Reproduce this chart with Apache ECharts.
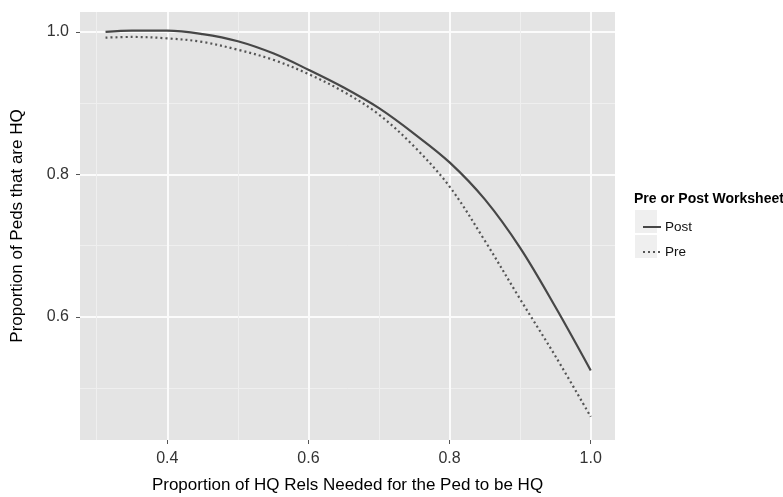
<!DOCTYPE html>
<html>
<head>
<meta charset="utf-8">
<title>Proportion of Peds that are HQ</title>
<script src="https://cdn.jsdelivr.net/npm/echarts@6/dist/echarts.min.js"></script>
<style>
  html, body { margin: 0; padding: 0; background: #fff; }
  #chart { width: 783px; height: 497px; }
</style>
</head>
<body>
<div id="chart"></div>
<script>
// x = proportion of HQ rels needed
var xValues = [0.3125, 0.35, 0.4, 0.45, 0.5, 0.55, 0.6, 0.65, 0.7, 0.75, 0.8, 0.85, 0.9, 0.95, 1.0];
var postValues = [1.000, 1.002, 1.002, 0.997, 0.987, 0.970, 0.947, 0.922, 0.893, 0.857, 0.817, 0.765, 0.697, 0.614, 0.525];
var preValues = [0.992, 0.993, 0.991, 0.986, 0.975, 0.961, 0.941, 0.916, 0.884, 0.839, 0.783, 0.707, 0.625, 0.545, 0.460];

var xTicks = [0.4, 0.6, 0.8, 1.0];
var xMinor = [0.3, 0.5, 0.7, 0.9];
var yTicks = [0.6, 0.8, 1.0];
var yMinor = [0.5, 0.7, 0.9];

var seriesNames = ['Post', 'Pre'];
var legendTitle = 'Pre or Post Worksheet';

function pairs(xs, ys) {
    return xs.map(function (x, i) { return [x, ys[i]]; });
}

var font = '"Liberation Sans", Arial, sans-serif';
var chart = echarts.init(document.getElementById('chart'));

var option = {
    backgroundColor: '#fff',
    animation: false,
    textStyle: { fontFamily: font },
    grid: {
        left: 80, top: 12, right: 168, bottom: 57,
        outerBoundsMode: 'none', containLabel: false,
        show: true, backgroundColor: '#e4e4e4', borderWidth: 0
    },
    legend: {
        orient: 'vertical',
        left: 637, top: 215,
        itemWidth: 18, itemHeight: 14, itemGap: 11,
        data: seriesNames,
        itemStyle: { color: 'transparent', borderColor: 'transparent', borderWidth: 0 },
        textStyle: { fontFamily: font, fontSize: 13.5, color: '#111', padding: [0, 0, 0, -1] }
    },
    graphic: [
        { type: 'text', left: 634, top: 192,
          style: { text: legendTitle, font: 'bold 14px ' + font, fill: '#000' } },
        { type: 'rect', z: -1, shape: { x: 635, y: 210, width: 22, height: 23 }, style: { fill: '#efefef' } },
        { type: 'rect', z: -1, shape: { x: 635, y: 235, width: 22, height: 23 }, style: { fill: '#efefef' } }
    ],
    xAxis: [
        {
            type: 'value', min: 0.2763, max: 1.0344,
            name: 'Proportion of HQ Rels Needed for the Ped to be HQ',
            nameLocation: 'middle', nameGap: 37,
            nameTextStyle: { fontSize: 17, color: '#000', fontFamily: font },
            axisLine: { show: false },
            axisTick: { show: true, length: 4, customValues: xTicks, lineStyle: { color: '#555' } },
            axisLabel: { customValues: xTicks, margin: 11, fontSize: 16, color: '#333',
                         formatter: function (v) { return v.toFixed(1); } },
            splitLine: { show: true, lineStyle: { color: '#fbfbfb', width: 2 } }
        },
        {
            type: 'value', min: 0.2763, max: 1.0344, position: 'bottom',
            axisLine: { show: false }, axisLabel: { show: false },
            axisTick: { show: false, customValues: xMinor },
            splitLine: { show: true, lineStyle: { color: '#efefef', width: 1 } }
        }
    ],
    yAxis: [
        {
            type: 'value', min: 0.4274, max: 1.028,
            name: 'Proportion of Peds that are HQ',
            nameLocation: 'middle', nameGap: 54,
            nameTextStyle: { fontSize: 17, color: '#000', fontFamily: font },
            axisLine: { show: false },
            axisTick: { show: true, length: 4, customValues: yTicks, lineStyle: { color: '#555' } },
            axisLabel: { customValues: yTicks, margin: 11, fontSize: 16, color: '#333',
                         formatter: function (v) { return v.toFixed(1); } },
            splitLine: { show: true, lineStyle: { color: '#fbfbfb', width: 2 } }
        },
        {
            type: 'value', min: 0.4274, max: 1.028, position: 'left',
            axisLine: { show: false }, axisLabel: { show: false },
            axisTick: { show: false, customValues: yMinor },
            splitLine: { show: true, lineStyle: { color: '#efefef', width: 1 } }
        }
    ],
    series: [
        {
            name: seriesNames[0], type: 'line', smooth: 0.35,
            showSymbol: false, symbol: 'none',
            data: pairs(xValues, postValues),
            lineStyle: { color: '#474747', width: 2.2 },
            itemStyle: { color: '#474747' }
        },
        {
            name: seriesNames[1], type: 'line', smooth: 0.35,
            showSymbol: false, symbol: 'none',
            data: pairs(xValues, preValues),
            lineStyle: { color: '#555', width: 2.2, type: [2, 3] },
            itemStyle: { color: '#555' }
        }
    ]
};

chart.setOption(option);
window.addEventListener('resize', function () {
    chart.resize();
});
</script>
</body>
</html>
